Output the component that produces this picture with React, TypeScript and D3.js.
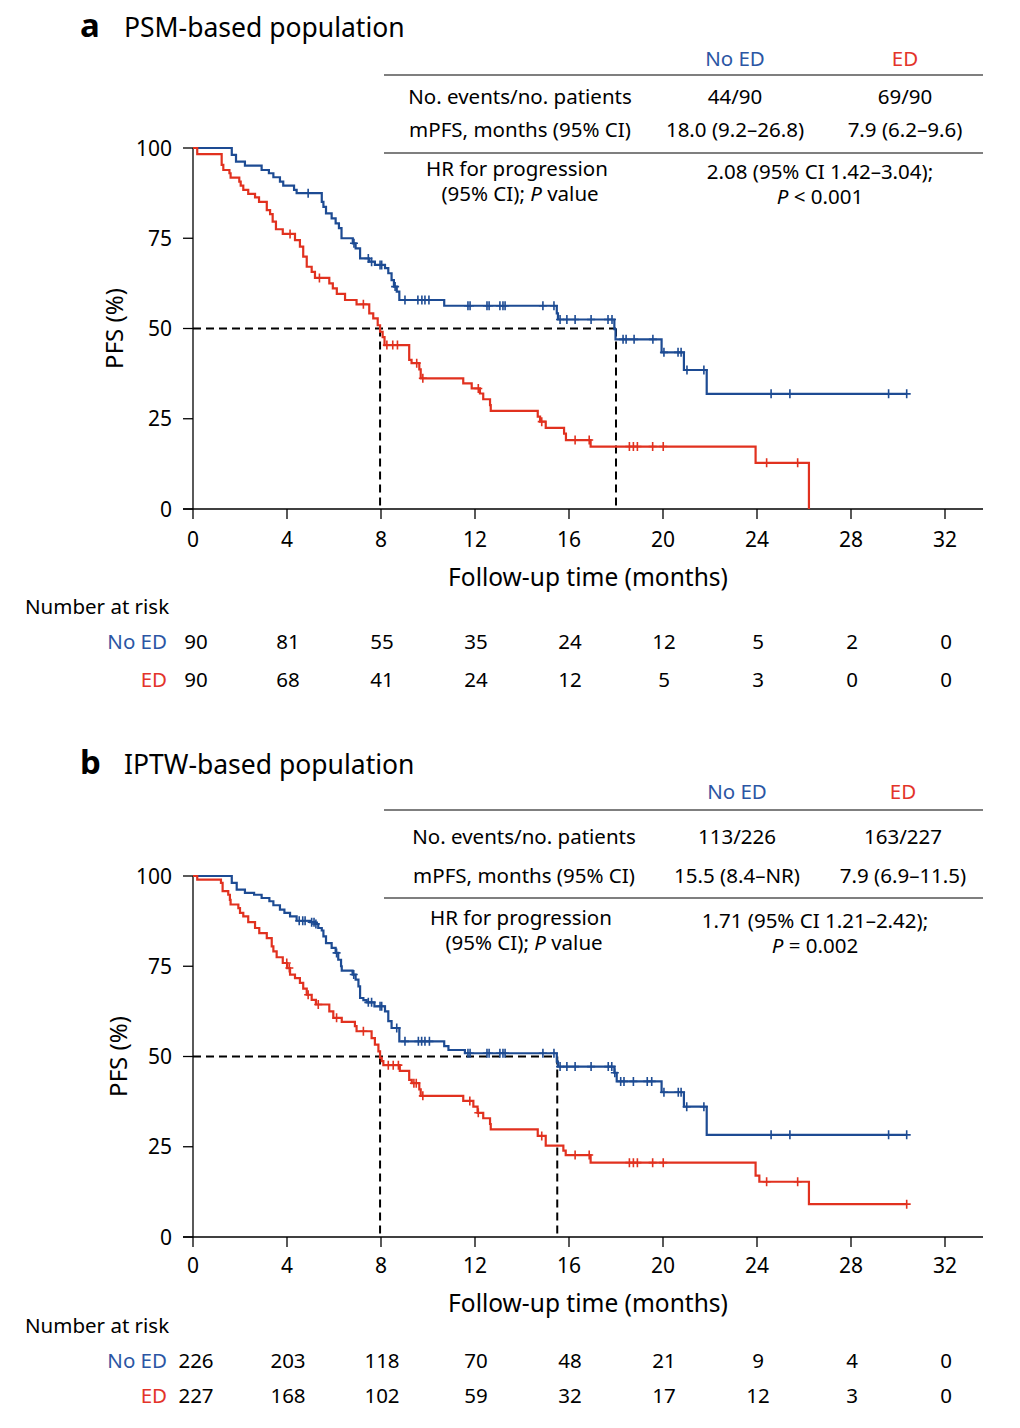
import React from "react";
import * as d3 from "d3";

// ---------- DATA ----------
const timeTicks = [0, 4, 8, 12, 16, 20, 24, 28, 32];
const pfsTicks = [0, 25, 50, 75, 100];

// step data: [time (months), PFS % from that time on]
const psmNoEdSteps: [number, number][] = [
  [0, 100], [1.65, 98.1], [1.83, 96.2], [2.21, 95.1], [2.92, 93.9], [3.23, 93.0], [3.42, 91.9],
  [3.7, 90.7], [3.84, 89.6], [4.3, 88.4], [4.41, 87.5], [5.48, 85.1], [5.55, 83.7], [5.66, 81.9],
  [5.9, 80.5], [6.07, 79.1], [6.21, 77.8], [6.32, 75.0], [6.8, 73.6], [6.92, 72.2], [7.11, 69.4],
  [7.5, 68.5], [7.74, 67.6], [8.17, 66.7], [8.31, 65.3], [8.45, 63.4], [8.55, 61.6], [8.67, 60.2],
  [8.78, 57.9], [10.69, 56.3], [15.48, 54.2], [15.53, 52.5], [17.93, 49.8], [17.98, 47.0],
  [19.94, 43.4], [20.89, 38.5], [21.86, 31.9],
];
const psmNoEdCensor = [
  4.9, 6.85, 7.46, 7.6, 7.96, 8.03, 8.6, 9.02, 9.57, 9.74, 9.87, 10.04, 11.7, 11.79, 12.51, 12.6,
  13.06, 13.19, 13.28, 14.89, 15.36, 15.62, 15.91, 16.26, 16.94, 17.66, 17.83, 18.3, 18.43, 18.77,
  19.57, 20.04, 20.64, 20.77, 21.02, 21.74, 24.6, 25.4, 29.6, 30.37,
];
const psmEdSteps: [number, number][] = [
  [0, 100], [0.18, 98.3], [1.22, 95.3], [1.29, 93.9], [1.55, 93.0], [1.6, 91.8], [1.97, 90.7],
  [2.03, 89.6], [2.14, 88.4], [2.35, 87.3], [2.64, 86.3], [2.81, 85.1], [3.14, 82.8], [3.28, 81.7],
  [3.39, 79.6], [3.53, 77.5], [3.82, 76.2], [4.34, 74.5], [4.55, 72.7], [4.69, 69.9], [4.84, 67.1],
  [5.05, 65.7], [5.19, 64.0], [5.8, 62.5], [5.95, 61.1], [6.12, 59.6], [6.47, 57.9], [6.96, 56.7],
  [7.5, 54.2], [7.67, 52.8], [7.86, 50.9], [7.96, 49.1], [8.07, 47.6], [8.15, 45.4], [9.2, 41.3],
  [9.3, 40.4], [9.63, 38.7], [9.69, 36.2], [11.5, 34.8], [11.86, 33.4], [12.21, 32.0], [12.35, 30.4],
  [12.64, 28.8], [12.67, 27.2], [14.67, 25.6], [14.77, 24.2], [15.01, 22.5], [15.79, 20.9],
  [15.87, 19.1], [16.92, 17.3], [23.94, 12.8], [26.21, 0],
];
const psmEdCensor = [
  4.13, 5.38, 7.25, 8.25, 8.5, 8.7, 9.52, 9.78, 12.14, 14.84, 16.26, 16.86, 18.57, 18.74, 18.91,
  19.56, 20.01, 24.41, 25.73,
];

const iptwNoEdSteps: [number, number][] = [
  [0, 100], [1.65, 98.1], [1.86, 96.2], [2.21, 95.3], [2.6, 94.8], [2.92, 93.9], [3.25, 93.0],
  [3.42, 91.9], [3.7, 90.7], [3.89, 89.8], [4.13, 88.8], [4.41, 87.6], [4.98, 87.2], [5.19, 86.7],
  [5.33, 85.6], [5.48, 84.9], [5.55, 83.3], [5.66, 81.4], [5.9, 80.1], [6.07, 78.7], [6.18, 76.8],
  [6.3, 75.0], [6.33, 73.8], [6.79, 72.7], [6.92, 71.3], [7.04, 69.4], [7.11, 66.2], [7.25, 65.6],
  [7.39, 65.0], [7.72, 63.9], [8.17, 62.5], [8.31, 59.8], [8.45, 57.9], [8.78, 54.2], [10.69, 52.9],
  [10.87, 51.8], [11.57, 50.9], [15.48, 48.6], [15.53, 47.2], [17.93, 45.5], [18.03, 43.1],
  [19.94, 40.1], [20.89, 36.1], [21.86, 28.3],
];
const iptwNoEdCensor = [
  4.52, 4.67, 4.77, 5.05, 5.15, 5.23, 6.11, 6.84, 7.46, 7.6, 7.96, 8.03, 8.67, 9.02, 9.59, 9.73,
  9.87, 10.06, 11.7, 11.79, 12.51, 12.6, 13.06, 13.19, 13.28, 14.89, 15.36, 15.62, 15.91, 16.26,
  16.94, 17.67, 17.82, 17.95, 18.2, 18.34, 18.74, 19.33, 19.52, 20.04, 20.65, 20.77, 21.01, 21.74,
  24.6, 25.4, 29.6, 30.37,
];
const iptwEdSteps: [number, number][] = [
  [0, 100], [0.18, 99.0], [1.19, 98.1], [1.26, 95.8], [1.5, 94.8], [1.57, 93.4], [1.6, 92.1],
  [1.93, 91.1], [2.0, 89.8], [2.14, 88.8], [2.35, 87.2], [2.64, 85.6], [2.82, 84.2], [3.14, 82.8],
  [3.35, 80.5], [3.42, 79.1], [3.56, 77.5], [3.82, 75.9], [4.01, 74.5], [4.13, 72.7], [4.34, 71.7],
  [4.55, 70.4], [4.69, 68.8], [4.84, 67.1], [5.05, 65.7], [5.23, 64.4], [5.8, 62.5], [5.97, 60.7],
  [6.33, 59.6], [6.89, 58.4], [6.96, 57.0], [7.6, 55.1], [7.74, 53.3], [7.89, 51.4], [7.96, 49.6],
  [8.03, 48.7], [8.1, 47.6], [8.8, 46.0], [9.2, 43.5], [9.31, 42.6], [9.63, 40.9], [9.69, 39.1],
  [11.5, 37.7], [11.93, 36.1], [12.11, 34.4], [12.35, 32.9], [12.64, 31.3], [12.67, 29.8],
  [14.67, 28.0], [15.01, 25.3], [15.76, 23.9], [15.86, 22.7], [16.92, 20.6], [23.94, 17.0],
  [24.1, 15.3], [26.21, 9.1],
];
const iptwEdCensor = [
  3.99, 4.1, 4.9, 5.33, 6.11, 7.25, 8.31, 8.52, 8.74, 9.4, 9.5, 9.78, 11.78, 12.14, 14.84, 16.26,
  16.86, 18.57, 18.74, 18.91, 19.56, 20.01, 24.41, 25.73, 30.37,
];

const psmMedians = [7.96, 18.0];
const iptwMedians = [7.96, 15.5];

const psmRiskNoEd = [90, 81, 55, 35, 24, 12, 5, 2, 0];
const psmRiskEd = [90, 68, 41, 24, 12, 5, 3, 0, 0];
const iptwRiskNoEd = [226, 203, 118, 70, 48, 21, 9, 4, 0];
const iptwRiskEd = [227, 168, 102, 59, 32, 17, 12, 3, 0];

const groupLabels = ["No ED", "ED"];
const psmTable = {
  events: ["44/90", "69/90"],
  mpfs: ["18.0 (9.2–26.8)", "7.9 (6.2–9.6)"],
  hr: ["2.08 (95% CI 1.42–3.04);", "< 0.001"],
};
const iptwTable = {
  events: ["113/226", "163/227"],
  mpfs: ["15.5 (8.4–NR)", "7.9 (6.9–11.5)"],
  hr: ["1.71 (95% CI 1.21–2.42);", "= 0.002"],
};

// ---------- STYLE ----------
const BLUE = "#1d4b93";
const RED = "#e1311f";
const BLUE_TXT = "#2b56a4";
const RED_TXT = "#e3342a";
const FONT = "'Noto Sans', Roboto, sans-serif";

type PanelProps = {
  top: number;
  letter: string;
  title: string;
  noEdSteps: [number, number][];
  noEdCensor: number[];
  edSteps: [number, number][];
  edCensor: number[];
  medians: number[];
  riskNoEd: number[];
  riskEd: number[];
  table: { events: string[]; mpfs: string[]; hr: string[] };
  L: any;
};

function survAt(steps: [number, number][], t: number) {
  let s = steps[0][1];
  for (const [tt, ss] of steps) {
    if (tt <= t + 1e-9) s = ss;
    else break;
  }
  return s;
}

function Curve({ steps, censor, color, x, y }: any) {
  const last = steps[steps.length - 1];
  const end = Math.max(last[0], ...censor);
  const pts = [...steps, [end, last[1]]] as [number, number][];
  const line = d3
    .line<[number, number]>()
    .x((d) => x(d[0]))
    .y((d) => y(d[1]))
    .curve(d3.curveStepAfter);
  return (
    <g>
      <path d={line(pts) || ""} fill="none" stroke={color} strokeWidth={2.2} />
      {censor.map((t: number, i: number) => {
        const cx = x(t);
        const cy = y(survAt(steps, t));
        return (
          <path
            key={i}
            d={`M${cx - 4},${cy}H${cx + 4}M${cx},${cy - 4.5}V${cy + 4.5}`}
            stroke={color}
            strokeWidth={1.6}
          />
        );
      })}
    </g>
  );
}

function Panel(p: PanelProps) {
  const L = p.L;
  const x = d3.scaleLinear().domain([0, 32]).range([193, 945]);
  const y = d3.scaleLinear().domain([0, 100]).range([p.top + 361, p.top]);
  const y0 = y(0);
  return (
    <g fontFamily={FONT}>
      <text x={80} y={L.titleY} fontSize={33} fontWeight={700} fill="#000">
        {p.letter}
      </text>
      <text x={124} y={L.titleY} fontSize={26.5} fill="#000">
        {p.title}
      </text>

      {/* summary table */}
      <g fontSize={20.5} textAnchor="middle" fill="#000">
        <text x={L.c1} y={L.headY} fill={BLUE_TXT}>{groupLabels[0]}</text>
        <text x={L.c2} y={L.headY} fill={RED_TXT}>{groupLabels[1]}</text>
        <line x1={384} x2={983} y1={L.line1} y2={L.line1} stroke="#000" strokeWidth={1.2} />
        <text x={L.labX} y={L.row1}>No. events/no. patients</text>
        <text x={L.c1} y={L.row1}>{p.table.events[0]}</text>
        <text x={L.c2} y={L.row1}>{p.table.events[1]}</text>
        <text x={L.labX} y={L.row2}>mPFS, months (95% CI)</text>
        <text x={L.c1} y={L.row2}>{p.table.mpfs[0]}</text>
        <text x={L.c2} y={L.row2}>{p.table.mpfs[1]}</text>
        <line x1={384} x2={983} y1={L.line2} y2={L.line2} stroke="#000" strokeWidth={1.2} />
        <text x={L.labX - 3} y={L.hr1}>HR for progression</text>
        <text x={L.labX} y={L.hr2}>
          (95% CI); <tspan fontStyle="italic">P</tspan> value
        </text>
        <text x={L.hrX} y={L.hr1 + 3}>{p.table.hr[0]}</text>
        <text x={L.hrX} y={L.hr2 + 3}>
          <tspan fontStyle="italic">P</tspan> {p.table.hr[1]}
        </text>
      </g>

      {/* y axis */}
      <line x1={193} x2={193} y1={y(100)} y2={y0} stroke="#000" strokeWidth={1.3} />
      {pfsTicks.map((v) => (
        <g key={v}>
          <line x1={183} x2={193} y1={y(v)} y2={y(v)} stroke="#000" strokeWidth={1.3} />
          <text x={172} y={y(v)} dy="0.36em" textAnchor="end" fontSize={21} fill="#000">
            {v}
          </text>
        </g>
      ))}
      <text
        transform={`translate(${L.yLabX},${y(50)}) rotate(-90)`}
        textAnchor="middle"
        fontSize={24}
        fill="#000"
      >
        PFS (%)
      </text>

      {/* x axis */}
      <line x1={183} x2={983} y1={y0} y2={y0} stroke="#000" strokeWidth={1.3} />
      {timeTicks.map((t) => (
        <g key={t}>
          <line x1={x(t)} x2={x(t)} y1={y0} y2={y0 + 10} stroke="#000" strokeWidth={1.3} />
          <text x={x(t)} y={L.xTickY} textAnchor="middle" fontSize={21} fill="#000">
            {t}
          </text>
        </g>
      ))}
      <text x={588} y={L.xLabY} textAnchor="middle" fontSize={24.5} fill="#000">
        Follow-up time (months)
      </text>

      {/* median lines */}
      <g stroke="#000" strokeWidth={2} strokeDasharray="8,5" fill="none">
        <line x1={193} x2={x(p.medians[1])} y1={y(50)} y2={y(50)} />
        {p.medians.map((m, i) => (
          <line key={i} x1={x(m)} x2={x(m)} y1={y(50)} y2={y0} />
        ))}
      </g>

      <Curve steps={p.noEdSteps} censor={p.noEdCensor} color={BLUE} x={x} y={y} />
      <Curve steps={p.edSteps} censor={p.edCensor} color={RED} x={x} y={y} />

      {/* number at risk */}
      <g fontSize={20.5} fill="#000">
        <text x={25} y={L.nrY}>Number at risk</text>
        <text x={167} y={L.nr1} textAnchor="end" fill={BLUE_TXT}>{groupLabels[0]}</text>
        <text x={167} y={L.nr2} textAnchor="end" fill={RED_TXT}>{groupLabels[1]}</text>
        {p.riskNoEd.map((n, i) => (
          <text key={"a" + i} x={x(timeTicks[i]) + (i === 0 ? 3 : 1)} y={L.nr1} textAnchor="middle">
            {n}
          </text>
        ))}
        {p.riskEd.map((n, i) => (
          <text key={"b" + i} x={x(timeTicks[i]) + (i === 0 ? 3 : 1)} y={L.nr2} textAnchor="middle">
            {n}
          </text>
        ))}
      </g>
    </g>
  );
}

const layoutA = {
  titleY: 37, headY: 66, line1: 75, row1: 104, row2: 137, line2: 153, hr1: 176, hr2: 201,
  c1: 735, c2: 905, labX: 520, hrX: 820, yLabX: 123, xTickY: 547, xLabY: 586,
  nrY: 614, nr1: 649, nr2: 687,
};
const layoutB = {
  titleY: 774, headY: 799, line1: 810, row1: 844, row2: 883, line2: 898, hr1: 925, hr2: 950,
  c1: 737, c2: 903, labX: 524, hrX: 815, yLabX: 127, xTickY: 1273, xLabY: 1312,
  nrY: 1333, nr1: 1368, nr2: 1403,
};

export default function App() {
  return (
    <svg
      width={1020}
      height={1428}
      style={{ position: "absolute", left: 0, top: 0, background: "#fff" }}
    >
      <rect width={1020} height={1428} fill="#fff" />
      <Panel
        top={148}
        letter="a"
        title="PSM-based population"
        noEdSteps={psmNoEdSteps}
        noEdCensor={psmNoEdCensor}
        edSteps={psmEdSteps}
        edCensor={psmEdCensor}
        medians={psmMedians}
        riskNoEd={psmRiskNoEd}
        riskEd={psmRiskEd}
        table={psmTable}
        L={layoutA}
      />
      <Panel
        top={876}
        letter="b"
        title="IPTW-based population"
        noEdSteps={iptwNoEdSteps}
        noEdCensor={iptwNoEdCensor}
        edSteps={iptwEdSteps}
        edCensor={iptwEdCensor}
        medians={iptwMedians}
        riskNoEd={iptwRiskNoEd}
        riskEd={iptwRiskEd}
        table={iptwTable}
        L={layoutB}
      />
    </svg>
  );
}
